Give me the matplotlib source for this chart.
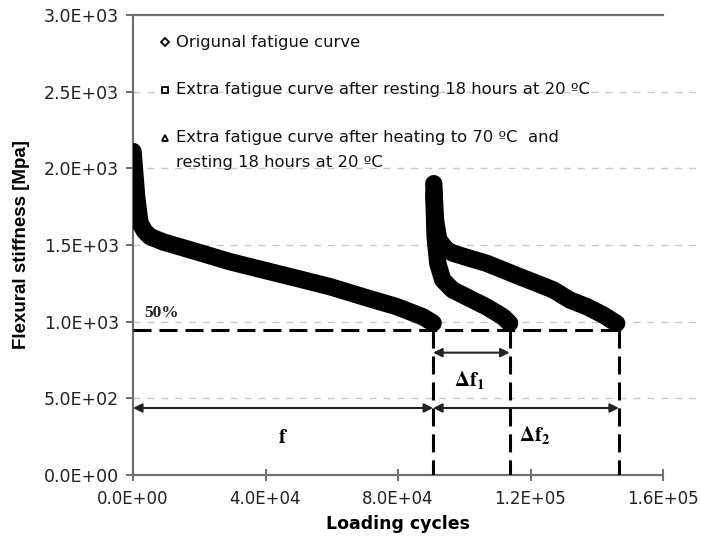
import matplotlib
matplotlib.use("Agg")
import matplotlib.pyplot as plt
from matplotlib.ticker import FuncFormatter, FixedLocator

plt.rcParams['font.family'] = ['DejaVu Sans']
plt.rcParams['mathtext.fontset'] = 'stix'

# ---------------- data ----------------
orig_x = [0, 300, 1100, 2100, 3500, 5100, 9100, 19200, 29300, 39300, 49400,
          59500, 69400, 79600, 87500, 90600]
orig_y = [2110, 2035, 1815, 1643, 1590, 1555, 1520, 1456, 1391, 1337, 1283,
          1228, 1163, 1098, 1032, 991]

rest_x = [90800, 91000, 91200, 92000, 93500, 96500, 101600, 106600, 111700, 113700]
rest_y = [1830, 1700, 1554, 1381, 1272, 1207, 1152, 1098, 1032, 990]

heat_x = [90800, 91000, 91300, 92300, 94700, 96700, 101700, 106700, 111800,
          116800, 121900, 126900, 131900, 137000, 142000, 146000]
heat_y = [1900, 1800, 1663, 1533, 1467, 1446, 1413, 1381, 1337, 1293, 1250,
          1207, 1141, 1098, 1043, 989]

level_50 = 945          # 50 % stiffness level
f_end = 90600           # cycles to failure, original
df1_end = 113700        # end of extra curve after resting
df2_end = 146700        # end of extra curve after heating + resting

y_ticks = [0, 500, 1000, 1500, 2000, 2500, 3000]
x_ticks = [0, 40000, 80000, 120000, 160000]

labels = ["Origunal fatigue curve",
          "Extra fatigue curve after resting 18 hours at 20 \u00baC",
          "Extra fatigue curve after heating to 70 \u00baC  and"]
label_cont = "resting 18 hours at 20 \u00baC"

# ---------------- figure ----------------
fig = plt.figure(figsize=(7.01, 5.5), dpi=100)
ax = fig.add_axes([133/701, 75/550, 530/701, 460/550])
ax.set_xlim(0, 160000)
ax.set_ylim(0, 3000)

# grid lines (extend slightly past the axis end as in the reference)
for yt in y_ticks[1:-1]:
    ax.axhline(yt, xmin=0, xmax=1.065, color='#c8c8c8', lw=1.0,
               ls=(0, (5, 5)), clip_on=False, zorder=0)

# curves (thick black bands of dense markers)
band = dict(color='black', lw=12.5, solid_capstyle='round', solid_joinstyle='round', zorder=3)
ax.plot(orig_x, orig_y, **band)
ax.plot(orig_x, orig_y, ls='none', marker='D', ms=6, mfc='black', mec='black', zorder=4)
ax.plot(rest_x, rest_y, **band)
ax.plot(rest_x, rest_y, ls='none', marker='s', ms=5.5, mfc='black', mec='black', zorder=4)
ax.plot(heat_x, heat_y, **band)
ax.plot(heat_x, heat_y, ls='none', marker='^', ms=6, mfc='black', mec='black', zorder=4)

# dashed construction lines
dash = (0, (5.9, 2.6))
ax.plot([0, df2_end], [level_50, level_50], color='black', lw=2.2, ls=dash, zorder=5)
for xv in (f_end, df1_end, df2_end):
    ax.plot([xv, xv], [level_50, 0], color='black', lw=2.2, ls=dash, zorder=5)

# arrows
arr = dict(arrowstyle='<|-|>', color='#222222', lw=1.5, shrinkA=0, shrinkB=0,
           mutation_scale=13)
ax.annotate('', xy=(f_end, 437), xytext=(0, 437), arrowprops=arr, zorder=6)
ax.annotate('', xy=(df2_end, 437), xytext=(f_end, 437), arrowprops=arr, zorder=6)
ax.annotate('', xy=(df1_end, 798), xytext=(f_end, 798), arrowprops=arr, zorder=6)

ax.text(45300, 250, r'$\mathbf{f}$', fontsize=15, ha='center', va='center')
ax.text(101700, 620, r'$\mathbf{\Delta f_1}$', fontsize=15, ha='center', va='center')
ax.text(121400, 262, r'$\mathbf{\Delta f_2}$', fontsize=15, ha='center', va='center')
ax.text(8750, 1057, '50%', fontsize=12.5, ha='center', va='center',
        family='Liberation Serif', fontweight='bold', color='#222222')

# legend (drawn manually so the marker sits on the first line)
leg_y = [0.941, 0.837, 0.733]
leg_m = ['D', 's', '^']
for yy, mk, lab in zip(leg_y, leg_m, labels):
    ax.plot([0.060], [yy], transform=ax.transAxes, marker=mk, ms=4.5,
            mfc='white', mec='black', mew=1.3, ls='none', clip_on=False)
    ax.text(0.081, yy, lab, transform=ax.transAxes, fontsize=11.8, va='center',
            ha='left', color='#111111')
ax.text(0.081, 0.680, label_cont, transform=ax.transAxes, fontsize=11.8, va='center',
        ha='left', color='#111111')

# axes styling
ax.spines['right'].set_visible(False)
for s in ('left', 'bottom', 'top'):
    ax.spines[s].set_color('#707070')
    ax.spines[s].set_linewidth(1.6)

ax.xaxis.set_major_locator(FixedLocator(x_ticks))
ax.yaxis.set_major_locator(FixedLocator(y_ticks))
fmt = FuncFormatter(lambda v, p: f"{v:.1E}")
ax.xaxis.set_major_formatter(fmt)
ax.yaxis.set_major_formatter(fmt)
ax.tick_params(axis='y', direction='out', length=5, width=1.2, color='#555555',
               labelsize=12.5, labelcolor='#222222', pad=5)
ax.tick_params(axis='x', direction='inout', length=9, width=1.2, color='#555555',
               labelsize=12, labelcolor='#222222', pad=6)

ax.set_xlabel('Loading cycles', fontsize=12.5, fontweight='bold', labelpad=5)
ax.set_ylabel('Flexural stiffness [Mpa]', fontsize=13.5, fontweight='bold',
              family='Liberation Sans', labelpad=10)

fig.savefig('out.png', dpi=100)
